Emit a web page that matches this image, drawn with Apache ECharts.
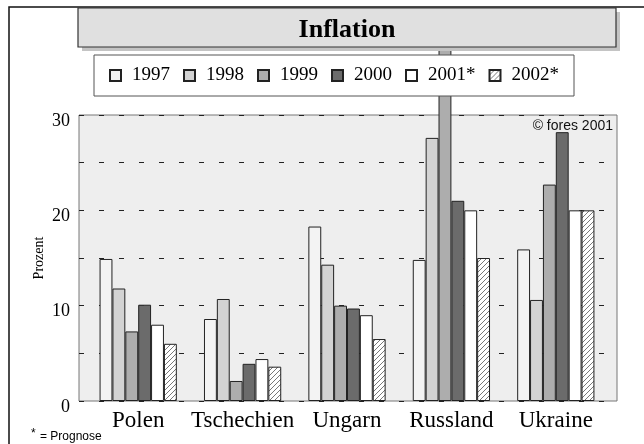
<!DOCTYPE html>
<html>
<head>
<meta charset="utf-8">
<script src="https://cdn.jsdelivr.net/npm/echarts@6/dist/echarts.min.js"></script>
<style>
  html, body { margin: 0; padding: 0; background: #fff; }
  #main { width: 644px; height: 444px; }
</style>
</head>
<body>
<div id="main"></div>
<script>
var categories = ['Polen', 'Tschechien', 'Ungarn', 'Russland', 'Ukraine'];
var years = ['1997', '1998', '1999', '2000', '2001*', '2002*'];
var v1997 = [14.9, 8.6, 18.3, 14.8, 15.9];
var v1998 = [11.8, 10.7, 14.3, 27.6, 10.6];
var v1999 = [7.3, 2.1, 10.0, 38.0, 22.7]; // Russland runs off the top of the plot, cut by the title box
var v2000 = [10.1, 3.9, 9.7, 21.0, 28.2];
var v2001 = [8.0, 4.4, 9.0, 20.0, 20.0];
var v2002 = [6.0, 3.6, 6.5, 15.0, 20.0];
var yTicks = [0, 10, 20, 30];

var myChart = echarts.init(document.getElementById('main'));

// hatch pattern for the forecast 2002 bars
var hatch = document.createElement('canvas');
hatch.width = 5;
hatch.height = 5;
var hc = hatch.getContext('2d');
hc.fillStyle = '#ffffff';
hc.fillRect(0, 0, 5, 5);
hc.strokeStyle = '#555555';
hc.lineWidth = 0.8;
hc.beginPath();
hc.moveTo(0, 5); hc.lineTo(5, 0);
hc.moveTo(-1, 1); hc.lineTo(1, -1);
hc.moveTo(4, 6); hc.lineTo(6, 4);
hc.stroke();

var fills = ['#f3f3f3', '#d3d3d3', '#adadad', '#6b6b6b', '#ffffff', {image: hatch, repeat: 'repeat'}];
var values = [v1997, v1998, v1999, v2000, v2001, v2002];

var serif = 'Liberation Serif, Times New Roman, serif';
var sans = 'Liberation Sans, Arial, sans-serif';

var series = [];
for (var i = 0; i < years.length; i++) {
    series.push({
        name: years[i],
        type: 'bar',
        xAxisIndex: 1,
        yAxisIndex: 1,
        data: values[i],
        barGap: '0%',
        barCategoryGap: '26%',
        clip: false,
        itemStyle: {
            color: fills[i],
            borderColor: '#222',
            borderWidth: 1
        },
        emphasis: {disabled: true}
    });
}

option = {
    animation: false,
    backgroundColor: '#ffffff',
    legend: {
        data: years,
        icon: 'rect',
        left: 94,
        top: 55,
        padding: [11, 15, 11, 15],
        itemGap: 13,
        itemWidth: 11,
        itemHeight: 11,
        backgroundColor: '#ffffff',
        borderColor: '#555',
        borderWidth: 1,
        selectedMode: false,
        textStyle: {
            fontFamily: serif,
            fontSize: 19,
            color: '#000',
            padding: [3, 0, 0, 6]
        }
    },
    grid: [{
        // background frame with the dashed lines
        left: 79, top: 115, width: 538, height: 286,
        show: true,
        backgroundColor: '#eeeeee',
        borderColor: '#777',
        borderWidth: 1
    }, {
        // bars
        left: 86, top: 115, width: 522, height: 286
    }],
    xAxis: [{
        gridIndex: 0,
        type: 'value',
        show: false
    }, {
        gridIndex: 1,
        type: 'category',
        data: categories,
        axisLine: {show: false},
        axisTick: {show: false},
        axisLabel: {
            interval: 0,
            margin: 8,
            fontFamily: serif,
            fontSize: 23,
            color: '#000'
        }
    }],
    yAxis: [{
        gridIndex: 0,
        type: 'value',
        min: 0,
        max: 30,
        interval: 5,
        name: 'Prozent',
        nameLocation: 'middle',
        nameGap: 33,
        nameRotate: 90,
        nameMoveOverlap: false,
        nameTextStyle: {fontFamily: serif, fontSize: 14, color: '#000'},
        axisLine: {show: false},
        axisTick: {show: false},
        axisLabel: {
            margin: 9,
            fontFamily: serif,
            fontSize: 18,
            color: '#000',
            verticalAlign: 'top',
            lineHeight: 12,
            formatter: function (v) {
                return yTicks.indexOf(v) >= 0 ? String(v) : '';
            }
        },
        splitLine: {
            show: true,
            lineStyle: {color: '#222', width: 1.2, type: [5, 15]}
        }
    }, {
        gridIndex: 1,
        type: 'value',
        min: 0,
        max: 30,
        show: false,
        splitLine: {show: false}
    }],
    graphic: [
        // outer frame
        {
            type: 'polyline',
            shape: {points: [[9, 444], [9, 7], [644, 7]]},
            style: {stroke: '#111', lineWidth: 1.5, fill: null},
            z: 100
        },
        // title box with shadow
        {
            type: 'rect',
            shape: {x: 82, y: 12, width: 538, height: 39},
            style: {fill: '#c4c4c4'},
            z: 100
        },
        {
            type: 'rect',
            shape: {x: 78, y: 8, width: 538, height: 39},
            style: {fill: '#e0e0e0', stroke: '#333', lineWidth: 1.2},
            z: 101
        },
        {
            type: 'text',
            x: 347,
            y: 30,
            style: {
                text: 'Inflation',
                font: 'bold 26px ' + serif,
                fill: '#000',
                align: 'center',
                verticalAlign: 'middle'
            },
            z: 102
        },
        {
            type: 'text',
            x: 613,
            y: 119,
            style: {
                text: '© fores 2001',
                font: '14px ' + sans,
                fill: '#111',
                align: 'right'
            },
            z: 50
        },
        {
            type: 'text',
            x: 31,
            y: 428,
            style: {text: '*', font: '12px ' + sans, fill: '#000'},
            z: 50
        },
        {
            type: 'text',
            x: 40,
            y: 431,
            style: {text: '= Prognose', font: '12px ' + sans, fill: '#000'},
            z: 50
        }
    ],
    series: series
};

myChart.setOption(option);
window.onresize = myChart.resize;
</script>
</body>
</html>
